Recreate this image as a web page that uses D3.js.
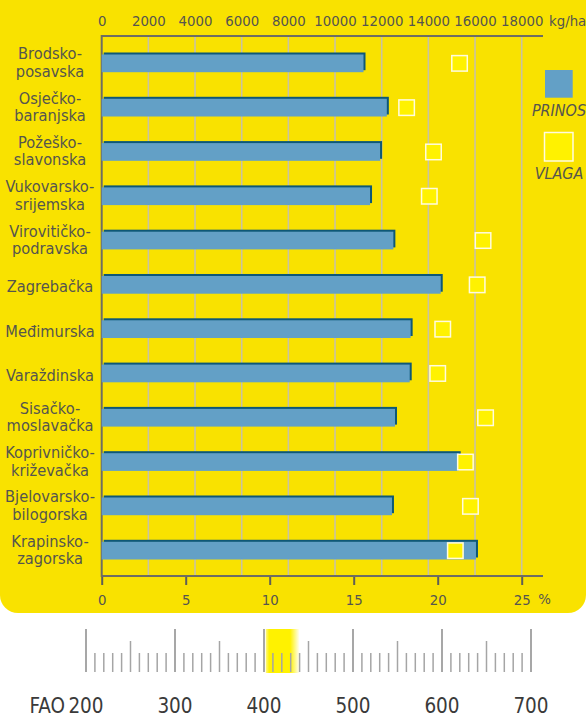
<!DOCTYPE html>
<html>
<head>
<meta charset="utf-8">
<script src="https://cdn.jsdelivr.net/npm/d3@7"></script>
<style>
  body { margin: 0; background: #fff; }
  svg { display: block; }
  text { font-family: "DejaVu Sans Condensed", "DejaVu Sans", sans-serif; fill: #55554e; }
</style>
</head>
<body>
<script>
// regions (counties), yield in kg/ha and grain moisture in %
const regions = ["Brodsko-posavska", "Osječko-baranjska", "Požeško-slavonska", "Vukovarsko-srijemska",
  "Virovitičko-podravska", "Zagrebačka", "Međimurska", "Varaždinska", "Sisačko-moslavačka",
  "Koprivničko-križevačka", "Bjelovarsko-bilogorska", "Krapinsko-zagorska"];
const prinos = [11220, 12220, 11930, 11500, 12500, 14530, 13240, 13200, 12570, 15300, 12440, 16040];
const vlaga = [21.3, 18.15, 19.75, 19.5, 22.7, 22.35, 20.3, 20.0, 22.85, 21.65, 21.95, 21.05];

const kgTicks = [0, 2000, 4000, 6000, 8000, 10000, 12000, 14000, 16000, 18000];
const pctTicks = [0, 5, 10, 15, 20, 25];
const faoLabels = [200, 300, 400, 500, 600, 700];
const faoHighlight = [402, 440];

const width = 586, height = 717;
const svg = d3.select("body").append("svg")
  .attr("width", width)
  .attr("height", height);

// yellow panel
svg.append("rect")
  .attr("x", 0).attr("y", -30)
  .attr("width", width).attr("height", 643)
  .attr("rx", 18)
  .attr("fill", "#f9e200");

const x0 = 101.7, x1 = 521.7, yTop = 36, yBottom = 576, axisEnd = 543;
const xKg = d3.scaleLinear().domain([0, 18000]).range([x0, x1]);
const xPct = d3.scaleLinear().domain([0, 25]).range([x0, x1]);
const y = d3.scaleBand().domain(regions).range([41.2, 572.8]).paddingInner(0.6).paddingOuter(0.3);

// grid
svg.append("g")
  .selectAll("line")
  .data(kgTicks.slice(1))
  .join("line")
    .attr("x1", d => xKg(d)).attr("x2", d => xKg(d))
    .attr("y1", yTop).attr("y2", yBottom)
    .attr("stroke", "#c9c2a2")
    .attr("stroke-width", 1.6);

// top axis (kg/ha)
const topAxis = svg.append("g").attr("transform", `translate(0,${yTop})`)
  .call(d3.axisTop(xKg).tickValues(kgTicks).tickSize(0).tickPadding(10).tickFormat(d3.format("d")));
topAxis.select(".domain").remove();
topAxis.attr("font-family", null);
topAxis.selectAll("text").attr("font-size", 14.8).attr("fill", "#55554e");
svg.append("line")
  .attr("x1", x0).attr("x2", axisEnd).attr("y1", yTop).attr("y2", yTop)
  .attr("stroke", "#6e6d63").attr("stroke-width", 2);
svg.append("text")
  .attr("x", 549).attr("y", yTop - 10)
  .attr("font-size", 14.8)
  .text("kg/ha");

// bottom axis (%)
const botAxis = svg.append("g").attr("transform", `translate(0,${yBottom})`)
  .call(d3.axisBottom(xPct).tickValues(pctTicks).tickSize(9).tickPadding(9).tickFormat(d3.format("d")));
botAxis.select(".domain").remove();
botAxis.attr("font-family", null);
botAxis.selectAll("line").attr("stroke", "#5f5e56").attr("stroke-width", 2);
botAxis.selectAll("text").attr("font-size", 14.8).attr("fill", "#55554e");
svg.append("line")
  .attr("x1", x0).attr("x2", axisEnd).attr("y1", yBottom).attr("y2", yBottom)
  .attr("stroke", "#6e6d63").attr("stroke-width", 2);
svg.append("text")
  .attr("x", 544.5).attr("y", 604.3)
  .attr("text-anchor", "middle")
  .attr("font-size", 14.8)
  .text("%");

// left axis line
svg.append("line")
  .attr("x1", x0).attr("x2", x0).attr("y1", yTop - 1).attr("y2", yBottom + 1)
  .attr("stroke", "#6e6d63").attr("stroke-width", 2);

// bars: dark shadow offset up-right, then the light bar
const bars = svg.append("g")
  .selectAll("g")
  .data(regions)
  .join("g");
bars.append("rect")
  .attr("x", x0 + 2)
  .attr("y", d => y(d) - 2)
  .attr("width", (d, i) => xKg(prinos[i]) - x0)
  .attr("height", y.bandwidth())
  .attr("fill", "#0e5877");
bars.append("rect")
  .attr("x", x0)
  .attr("y", d => y(d))
  .attr("width", (d, i) => xKg(prinos[i]) - x0)
  .attr("height", y.bandwidth())
  .attr("fill", "#63a0c6");

// moisture squares
const sq = 15.5;
svg.append("g")
  .selectAll("rect")
  .data(regions)
  .join("rect")
    .attr("x", (d, i) => xPct(vlaga[i]) - sq / 2)
    .attr("y", d => y(d) + y.bandwidth() / 2 - sq / 2)
    .attr("width", sq).attr("height", sq)
    .attr("fill", "#fff200")
    .attr("stroke", "#fffbe0")
    .attr("stroke-width", 1.5);

// category labels
const labels = svg.append("g")
  .selectAll("text")
  .data(regions)
  .join("text")
    .attr("text-anchor", "middle")
    .attr("font-size", 16.3);
labels.each(function(d) {
  const parts = d.split(/(?<=-)/);
  const cy = y(d) + y.bandwidth() / 2;
  const t = d3.select(this);
  if (parts.length === 1) {
    t.append("tspan").attr("x", 50).attr("y", cy + 7.5).text(parts[0]);
  } else {
    t.append("tspan").attr("x", 50).attr("y", cy - 4).text(parts[0]);
    t.append("tspan").attr("x", 50).attr("y", cy + 13.5).text(parts[1]);
  }
});

// legend
svg.append("rect")
  .attr("x", 545).attr("y", 70).attr("width", 27.7).attr("height", 27.7)
  .attr("fill", "#63a0c6");
svg.append("text")
  .attr("x", 559).attr("y", 116)
  .attr("text-anchor", "middle")
  .attr("font-size", 16).attr("font-style", "italic")
  .text("PRINOS");
svg.append("rect")
  .attr("x", 544.5).attr("y", 132.5).attr("width", 28.5).attr("height", 28.5)
  .attr("fill", "#fff200")
  .attr("stroke", "#fffbe0").attr("stroke-width", 1.5);
svg.append("text")
  .attr("x", 559).attr("y", 178.5)
  .attr("text-anchor", "middle")
  .attr("font-size", 16).attr("font-style", "italic")
  .text("VLAGA");

// FAO scale
const xFao = d3.scaleLinear().domain([200, 700]).range([86, 531]);
const defs = svg.append("defs");
const grad = defs.append("linearGradient").attr("id", "hl");
grad.append("stop").attr("offset", "0%").attr("stop-color", "#fff200").attr("stop-opacity", 0.5);
grad.append("stop").attr("offset", "10%").attr("stop-color", "#fff200").attr("stop-opacity", 1);
grad.append("stop").attr("offset", "72%").attr("stop-color", "#fff200").attr("stop-opacity", 1);
grad.append("stop").attr("offset", "100%").attr("stop-color", "#fff200").attr("stop-opacity", 0);
svg.append("rect")
  .attr("x", xFao(faoHighlight[0]))
  .attr("y", 629)
  .attr("width", xFao(faoHighlight[1]) - xFao(faoHighlight[0]))
  .attr("height", 44)
  .attr("fill", "url(#hl)");

svg.append("g")
  .selectAll("line")
  .data(d3.range(200, 701, 10))
  .join("line")
    .attr("x1", d => xFao(d)).attr("x2", d => xFao(d))
    .attr("y1", d => d % 100 === 0 ? 629 : d % 50 === 0 ? 641 : 653)
    .attr("y2", 672)
    .attr("stroke", d => d % 100 === 0 ? "#8a8a8a" : "#a5a5a5")
    .attr("stroke-width", 1.5);

svg.append("g")
  .selectAll("text")
  .data(faoLabels)
  .join("text")
    .attr("x", d => xFao(d))
    .attr("y", 713)
    .attr("text-anchor", "middle")
    .attr("font-size", 20.5)
    .style("fill", "#3a3a3a")
    .text(d => d);
svg.append("text")
  .attr("x", 65)
  .attr("y", 713)
  .attr("text-anchor", "end")
  .attr("font-size", 20.5)
  .style("fill", "#3a3a3a")
  .text("FAO");
</script>
</body>
</html>
